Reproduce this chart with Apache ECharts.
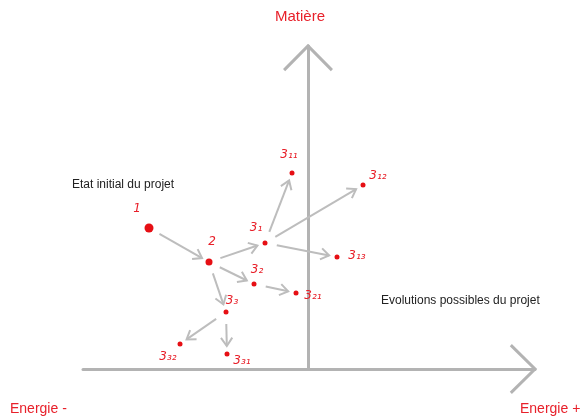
<!DOCTYPE html>
<html>
<head>
<meta charset="utf-8">
<script src="https://cdn.jsdelivr.net/npm/echarts@6/dist/echarts.min.js"></script>
<style>html,body{margin:0;padding:0;background:#fff}#c{width:582px;height:420px}</style>
</head>
<body>
<div id="c"></div>
<script>
// Project states: name, energy (x) and matter (y)
const stateNames = ['1', '2', '3₁', '3₂', '3₃', '3₁₁', '3₁₂', '3₁₃', '3₂₁', '3₃₁', '3₃₂'];
const energie = [-15.9, -9.9, -4.3, -5.4, -8.2, -1.6, 5.5, 2.9, -1.2, -8.1, -12.8];
const matiere = [14.1, 10.7, 12.6, 8.5, 5.7, 19.6, 18.4, 11.2, 7.6, 1.5, 2.5];
// Transitions (from -> to)
const edgeFrom = ['1', '2', '3₁', '3₁', '3₁', '2', '3₂', '2', '3₃', '3₃'];
const edgeTo   = ['2', '3₁', '3₁₁', '3₁₂', '3₁₃', '3₂', '3₂₁', '3₃', '3₃₂', '3₃₁'];
// Axis extent
const xMin = -22.5, xMax = 22.7, yMin = 0, yMax = 32.3;
const axisTitles = { top: 'Matière', left: 'Energie -', right: 'Energie +' };
const notes = ['Etat initial du projet', 'Evolutions possibles du projet'];

// label placement (pixel offsets) — style only
const labelOffset = {
  '1': [-12, -19], '2': [3, -20], '3₁': [-9, -15], '3₁₁': [-3, -18], '3₁₂': [15, -9],
  '3₁₃': [20, -1], '3₂': [3, -14], '3₂₁': [17, 3], '3₃': [6, -11], '3₃₂': [-12, 13], '3₃₁': [15, 7]
};
const symSize = { '1': 9, '2': 7 };

const idx = n => stateNames.indexOf(n);
const pointData = stateNames.map((n, i) => ({
  value: [energie[i], matiere[i]],
  name: n,
  symbolSize: symSize[n] || 5,
  label: { show: true, formatter: n, position: 'inside', offset: labelOffset[n] }
}));
const edgeData = edgeFrom.map((f, i) => {
  const a = idx(f), b = idx(edgeTo[i]);
  return [energie[a], matiere[a], energie[b], matiere[b]];
});

const GRAY = '#bdbdbd';
const RED = '#e8202a';
const DOT = '#e60f14';

function chevron(tip, ux, uy, len, ang) {
  const pts = [];
  for (const s of [1, -1]) {
    const c = Math.cos(ang), sn = Math.sin(ang) * s;
    const bx = -ux, by = -uy;
    pts.push([tip[0] + (bx * c - by * sn) * len, tip[1] + (bx * sn + by * c) * len]);
  }
  return [pts[0], tip, pts[1]];
}

const chart = echarts.init(document.getElementById('c'), null, { renderer: 'canvas' });
chart.setOption({
  animation: false,
  backgroundColor: '#fff',
  grid: { left: 83, right: 47, top: 46, bottom: 51 },
  xAxis: {
    type: 'value', min: xMin, max: xMax,
    axisLine: { show: true, onZero: false, lineStyle: { color: '#b3b3b3', width: 3 } },
    axisTick: { show: false }, axisLabel: { show: false }, splitLine: { show: false }
  },
  yAxis: {
    type: 'value', min: yMin, max: yMax,
    axisLine: { show: true, onZero: true, lineStyle: { color: '#b3b3b3', width: 3 } },
    axisTick: { show: false }, axisLabel: { show: false }, splitLine: { show: false }
  },
  graphic: [
    { type: 'text', left: 275, top: 9, style: { text: axisTitles.top, fill: RED, font: '15px "Liberation Sans", sans-serif' } },
    { type: 'text', left: 10, top: 402, style: { text: axisTitles.left, fill: RED, font: '14px "Liberation Sans", sans-serif' } },
    { type: 'text', left: 520, top: 402, style: { text: axisTitles.right, fill: RED, font: '14px "Liberation Sans", sans-serif' } },
    { type: 'text', left: 72, top: 179, style: { text: notes[0], fill: '#222', font: '12px "Liberation Sans", sans-serif' } },
    { type: 'text', left: 381, top: 295, style: { text: notes[1], fill: '#222', font: '12px "Liberation Sans", sans-serif' } }
  ],
  series: [
    {
      type: 'custom',
      coordinateSystem: 'cartesian2d',
      data: [[0, yMax, 0, 1], [xMax, 0, 1, 0]],
      renderItem: function (params, api) {
        const tip = api.coord([api.value(0), api.value(1)]);
        const ux = api.value(2), uy = -api.value(3);
        const pts = chevron(tip, ux, uy, 34, 0.78);
        return { type: 'polyline', shape: { points: pts }, style: { stroke: '#b3b3b3', lineWidth: 3, fill: null } };
      },
      silent: true, z: 2
    },
    {
      type: 'custom',
      coordinateSystem: 'cartesian2d',
      data: edgeData,
      renderItem: function (params, api) {
        const p1 = api.coord([api.value(0), api.value(1)]);
        const p2 = api.coord([api.value(2), api.value(3)]);
        const dx = p2[0] - p1[0], dy = p2[1] - p1[1];
        const d = Math.sqrt(dx * dx + dy * dy);
        const ux = dx / d, uy = dy / d;
        const s = [p1[0] + ux * 12, p1[1] + uy * 12];
        const e = [p2[0] - ux * 8, p2[1] - uy * 8];
        return {
          type: 'group',
          children: [
            { type: 'line', shape: { x1: s[0], y1: s[1], x2: e[0], y2: e[1] }, style: { stroke: GRAY, lineWidth: 2 } },
            { type: 'polyline', shape: { points: chevron(e, ux, uy, 10, 0.6) }, style: { stroke: GRAY, lineWidth: 2, fill: null } }
          ]
        };
      },
      silent: true, z: 3
    },
    {
      type: 'scatter',
      data: pointData,
      symbol: 'circle',
      itemStyle: { color: DOT, opacity: 1 },
      label: { color: RED, fontSize: 12, fontFamily: 'DejaVu Sans', fontStyle: 'italic' },
      z: 5
    }
  ]
});
</script>
</body>
</html>
